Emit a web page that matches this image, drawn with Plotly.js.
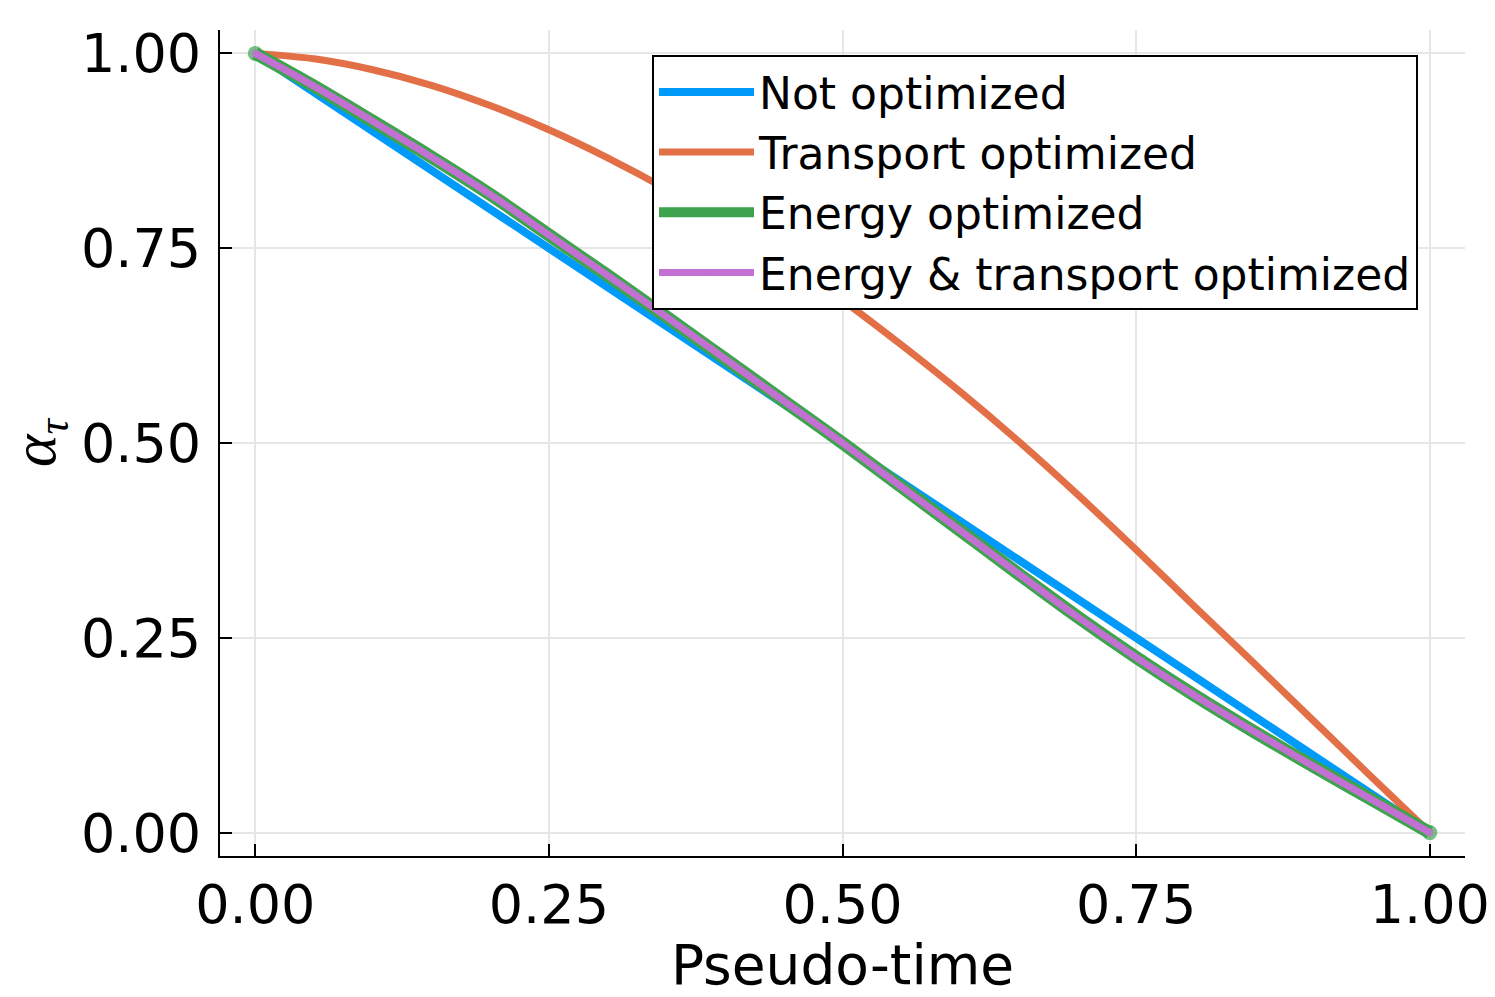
<!DOCTYPE html>
<html>
<head>
<meta charset="utf-8">
<script src="https://cdn.plot.ly/plotly-3.0.1.min.js"></script>
<style>
  html, body { margin: 0; padding: 0; background: #ffffff; }
  #chart { width: 1495px; height: 997px; }
</style>
</head>
<body>
<div id="chart"></div>
<script>
// Pseudo-time grid
const pseudoTime = [0, 0.05, 0.1, 0.15, 0.2, 0.25, 0.3, 0.35, 0.4, 0.45, 0.5,
                    0.55, 0.6, 0.65, 0.7, 0.75, 0.8, 0.85, 0.9, 0.95, 1.0];

// Series values
const notOptimized = [1.000, 0.950, 0.900, 0.850, 0.800, 0.750, 0.700, 0.650, 0.600, 0.550, 0.500,
                      0.450, 0.400, 0.350, 0.300, 0.250, 0.200, 0.150, 0.100, 0.050, 0.000];
const transportOptimized = [1.000, 0.993, 0.979, 0.959, 0.933, 0.902, 0.866, 0.826, 0.782, 0.734, 0.683,
                            0.626, 0.566, 0.502, 0.434, 0.363, 0.290, 0.218, 0.145, 0.072, 0.000];
const energyOptimized = [1.000, 0.958, 0.913, 0.867, 0.819, 0.767, 0.715, 0.662, 0.608, 0.554, 0.500,
                         0.444, 0.388, 0.332, 0.277, 0.225, 0.176, 0.130, 0.086, 0.043, 0.000];
const energyTransportOptimized = [1.000, 0.958, 0.913, 0.867, 0.819, 0.767, 0.715, 0.662, 0.608, 0.554, 0.500,
                                  0.444, 0.388, 0.332, 0.277, 0.225, 0.176, 0.130, 0.086, 0.043, 0.000];

// Series names
const seriesNames = ["Not optimized", "Transport optimized", "Energy optimized", "Energy & transport optimized"];

// Tick labels
const tickVals = [0, 0.25, 0.5, 0.75, 1.0];
const tickText = ["0.00", "0.25", "0.50", "0.75", "1.00"];

const n = pseudoTime.length;
const endSizes = (s) => pseudoTime.map((v, i) => (i === 0 || i === n - 1) ? s : 0);

const traces = [
  { x: pseudoTime, y: notOptimized, name: seriesNames[0], mode: "lines",
    line: { color: "#009AFA", width: 8 } },
  { x: pseudoTime, y: transportOptimized, name: seriesNames[1], mode: "lines",
    line: { color: "#E26F46", width: 7, shape: "spline", smoothing: 0.8 } },
  { x: pseudoTime, y: energyOptimized, name: seriesNames[2], mode: "lines+markers",
    line: { color: "#3DA44D", width: 13, shape: "spline", smoothing: 1 },
    marker: { color: "#3DA44D", size: endSizes(15), line: { width: 0 } } },
  { x: pseudoTime, y: energyTransportOptimized, name: seriesNames[3], mode: "lines+markers",
    line: { color: "#C271D2", width: 7, shape: "spline", smoothing: 1 },
    marker: { color: "#C271D2", size: endSizes(8), line: { width: 0 } } }
];

const axisCommon = {
  range: [-0.03, 1.03],
  tickvals: tickVals,
  ticktext: tickText,
  ticks: "inside",
  ticklen: 12,
  tickwidth: 2,
  tickcolor: "#000000",
  showline: true,
  linecolor: "#000000",
  linewidth: 2,
  mirror: false,
  showgrid: true,
  gridcolor: "#e6e6e6",
  gridwidth: 1.5,
  zeroline: false,
  tickfont: { family: "DejaVu Sans", size: 54, color: "#000000" }
};

const layout = {
  width: 1495,
  height: 997,
  paper_bgcolor: "#ffffff",
  plot_bgcolor: "#ffffff",
  margin: { l: 220, r: 30, t: 30, b: 141 },
  showlegend: true,
  xaxis: Object.assign({}, axisCommon, {
    title: { text: "Pseudo-time", font: { family: "DejaVu Sans", size: 55, color: "#000000" }, standoff: 12 }
  }),
  yaxis: Object.assign({}, axisCommon, {
    ticklabelstandoff: 6,
    title: { text: "<i>α<sub>τ</sub></i>", font: { family: "Liberation Serif", size: 62, color: "#000000" }, standoff: 16 }
  }),
  legend: {
    x: 0.347, y: 0.970, xanchor: "left", yanchor: "top",
    bgcolor: "#ffffff",
    bordercolor: "#000000",
    borderwidth: 2,
    itemwidth: 95,
    font: { family: "DejaVu Sans", size: 44, color: "#000000" }
  }
};

Plotly.newPlot("chart", traces, layout, { displayModeBar: false, responsive: false });
</script>
</body>
</html>
